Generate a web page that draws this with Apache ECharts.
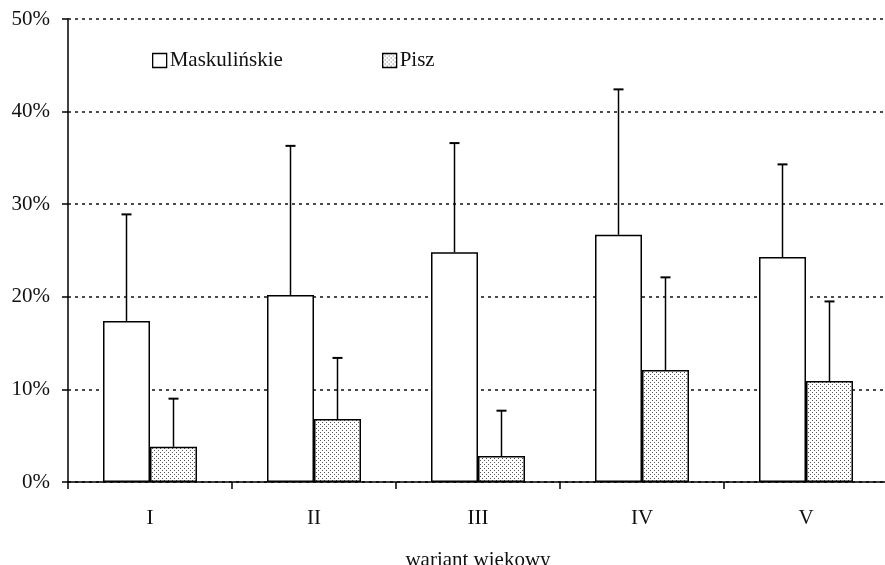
<!DOCTYPE html>
<html><head><meta charset="utf-8">
<script src="https://cdn.jsdelivr.net/npm/echarts@6/dist/echarts.min.js"></script>
<style>html,body{margin:0;padding:0;background:#fff}#c{width:885px;height:565px}</style>
</head><body><div id="c"></div>
<script>
const categories = ['I', 'II', 'III', 'IV', 'V'];
const maskValues = [17.4, 20.2, 24.8, 26.7, 24.3];
const maskErrTop = [28.9, 36.3, 36.6, 42.4, 34.3];
const piszValues = [3.8, 6.8, 2.8, 12.1, 10.9];
const piszErrTop = [9.0, 13.4, 7.7, 22.1, 19.5];
const yTicks = [0, 10, 20, 30, 40, 50];

function makePattern() {
  const c = document.createElement('canvas');
  c.width = 4; c.height = 4;
  const g = c.getContext('2d');
  g.fillStyle = '#fff'; g.fillRect(0, 0, 4, 4);
  g.fillStyle = '#555';
  g.fillRect(0, 0, 1, 1);
  g.fillRect(2, 2, 1, 1);
  return c;
}
const pattern = { image: makePattern(), repeat: 'repeat' };

const FONT = 'Liberation Serif';
const FS = 21;
const BAR_W = 47;

function errSeries(name, vals, tops, offset) {
  return {
    type: 'custom', name: name + '_err', z: 5, silent: true,
    data: vals.map((v, i) => [i, v, tops[i]]),
    renderItem: function (params, api) {
      const p0 = api.coord([api.value(0), api.value(1)]);
      const p1 = api.coord([api.value(0), api.value(2)]);
      const x = p0[0] + offset;
      return {
        type: 'group',
        children: [
          { type: 'line', shape: { x1: x, y1: p0[1], x2: x, y2: p1[1] }, style: { stroke: '#000', lineWidth: 1.5 } },
          { type: 'line', shape: { x1: x - 5, y1: p1[1], x2: x + 5, y2: p1[1] }, style: { stroke: '#000', lineWidth: 2 } }
        ]
      };
    }
  };
}

const chart = echarts.init(document.getElementById('c'));
chart.setOption({
  backgroundColor: '#fff',
  animation: false,
  grid: { left: 68, right: -3, top: 19, bottom: 83, outerBoundsMode: 'none', containLabel: false },
  legend: [
    { left: 147, top: 45, itemWidth: 14, itemHeight: 14, itemGap: 80,
      textStyle: { fontFamily: FONT, fontSize: FS, color: '#111', padding: [0, 0, 0, -2] },
      data: [
        { name: 'Maskulińskie', icon: 'rect', itemStyle: { color: '#fff', borderColor: '#000', borderWidth: 1.3 } }
      ] },
    { left: 377, top: 45, itemWidth: 14, itemHeight: 14,
      textStyle: { fontFamily: FONT, fontSize: FS, color: '#111', padding: [0, 0, 0, -2] },
      data: [
        { name: 'Pisz', icon: 'rect', itemStyle: { color: pattern, borderColor: '#000', borderWidth: 1.3 } }
      ] }
  ],
  xAxis: {
    type: 'category', data: categories,
    name: 'wariant wiekowy', nameLocation: 'middle', nameGap: 68,
    nameTextStyle: { fontFamily: FONT, fontSize: FS, color: '#111' },
    axisLine: { lineStyle: { color: '#000', width: 1.5 } },
    axisTick: { show: true, length: 7, lineStyle: { color: '#000', width: 1.5 } },
    axisLabel: { fontFamily: FONT, fontSize: FS, color: '#111', margin: 26 }
  },
  yAxis: {
    type: 'value', min: yTicks[0], max: yTicks[yTicks.length - 1], interval: 10,
    axisLine: { show: true, lineStyle: { color: '#000', width: 1.5 } },
    axisTick: { show: true, length: 6, lineStyle: { color: '#000', width: 1.5 } },
    axisLabel: { fontFamily: FONT, fontSize: FS, color: '#111', margin: 18, formatter: v => v + '%' },
    splitLine: { show: true, lineStyle: { color: '#111', width: 1.5, type: [3, 4] } }
  },
  series: [
    { name: 'Maskulińskie', type: 'bar', data: maskValues, barWidth: BAR_W, barGap: '0%',
      itemStyle: { color: '#fff', borderColor: '#000', borderWidth: 1.5 } },
    { name: 'Pisz', type: 'bar', data: piszValues, barWidth: BAR_W, barGap: '0%',
      itemStyle: { color: pattern, borderColor: '#000', borderWidth: 1.5 } },
    errSeries('Maskulińskie', maskValues, maskErrTop, -BAR_W / 2),
    errSeries('Pisz', piszValues, piszErrTop, BAR_W / 2)
  ]
});
</script></body></html>
